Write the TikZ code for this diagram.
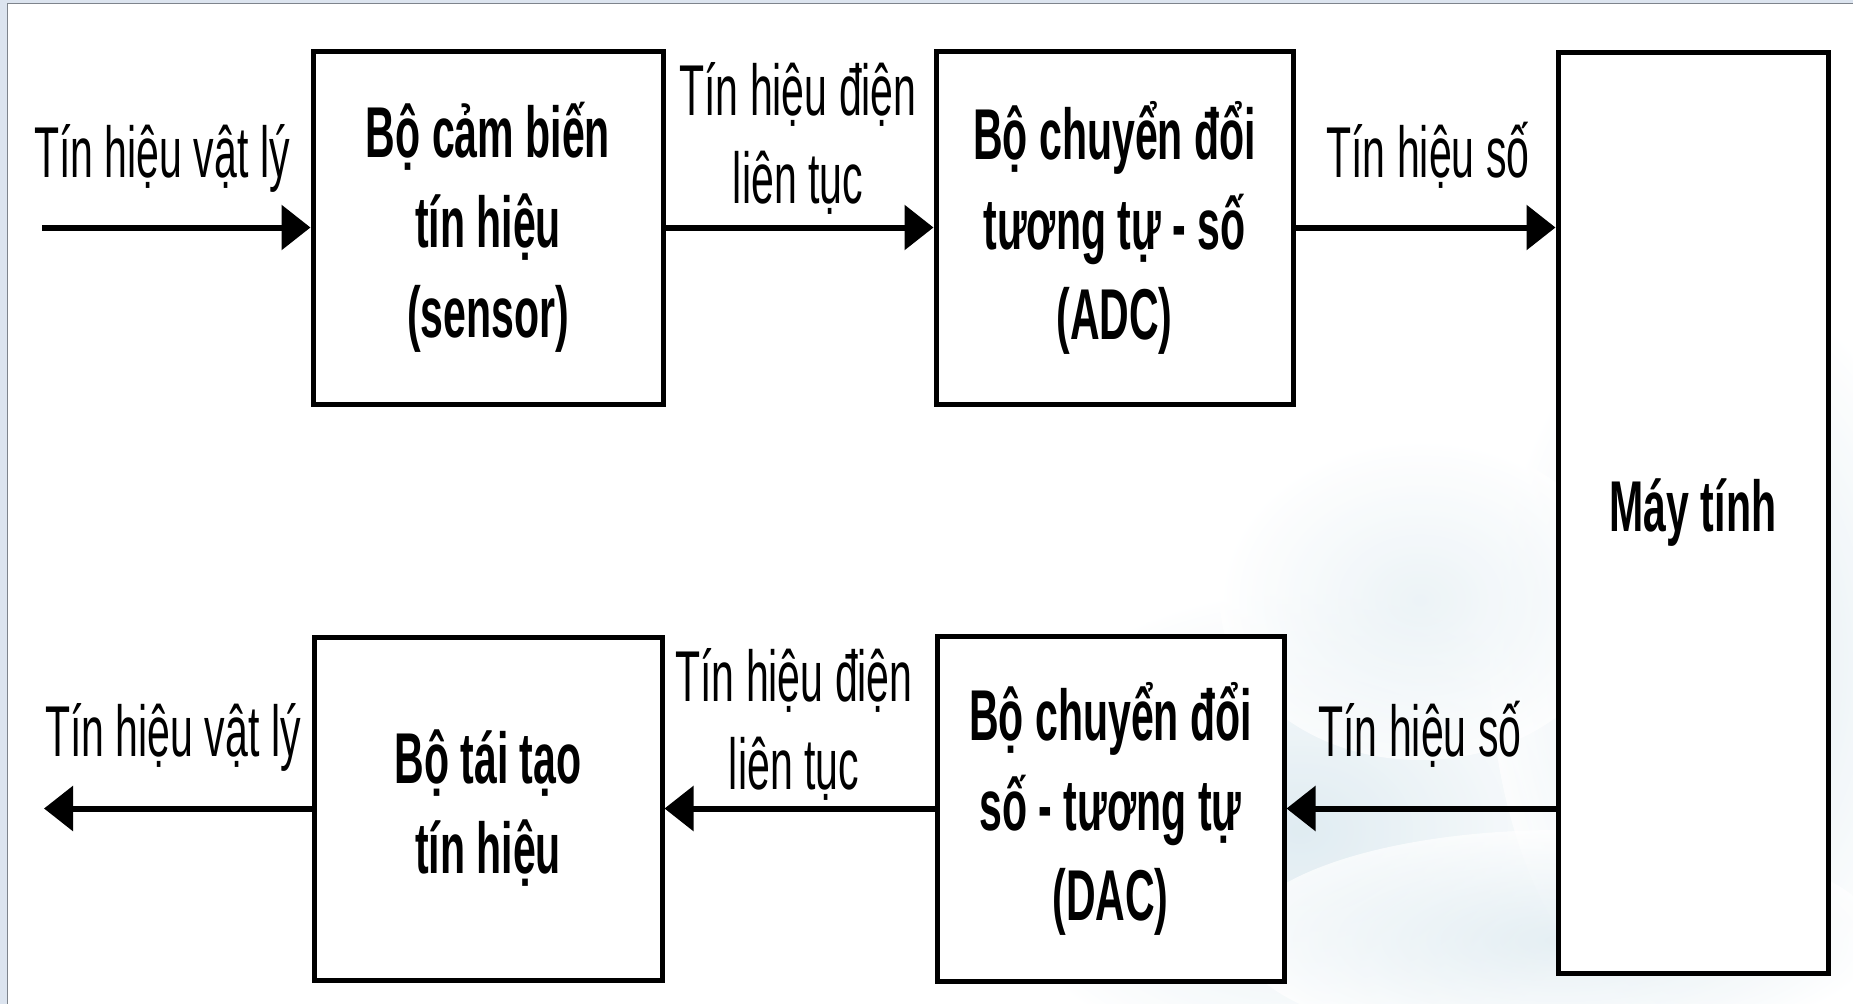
\documentclass[tikz,border=0pt]{standalone}
\usepackage{fontspec}
\setmainfont[FakeStretch=0.57]{Liberation Sans}
\usetikzlibrary{arrows.meta}
\definecolor{wm}{HTML}{D3E4EC}
\definecolor{frameband}{HTML}{DCE4EF}
\definecolor{frameline}{HTML}{7E848C}
\begin{document}
\begin{tikzpicture}[x=1pt,y=-1pt,
  blk/.style={draw=black, line width=5pt, fill=white, inner sep=0pt, align=center,
    font=\fontsize{72pt}{90pt}\selectfont\bfseries},
  lbl/.style={inner sep=0pt, align=center, font=\fontsize{72pt}{88pt}\selectfont},
  conn/.style={line width=6pt, -{Triangle[length=29pt,width=44pt]}}
]
% background and frame
\fill[white] (0,0) rectangle (1853,1004);
\useasboundingbox (0,0) rectangle (1853,1004);
\fill[frameband] (0,0) rectangle (7,1004);
\fill[frameband] (0,0) rectangle (1853,3);
\draw[frameline, line width=1.5pt] (7.5,1004) -- (7.5,3.7) -- (1853,3.7);
% faint watermark
\begin{scope}[opacity=0.7]
\shade[inner color=wm, outer color=white] (1300,830) ellipse (320 and 240);
\shade[inner color=wm, outer color=white] (1720,660) ellipse (230 and 380);
\shade[inner color=wm!60, outer color=white] (1420,600) ellipse (200 and 160);
\shade[inner color=wm!80, outer color=white] (1560,940) ellipse (320 and 110);
\end{scope}
% blocks
\node[blk, minimum width=350pt, minimum height=353pt] (sens) at (488,227.5)
  {Bộ cảm biến\\tín hiệu\\(sensor)};
\node[blk, minimum width=357pt, minimum height=353pt] (adc) at (1114.5,227.5)
  {Bộ chuyển đổi\\tương tự - số\\(ADC)};
\node[blk, minimum width=270pt, minimum height=921pt] (pc) at (1693,512.5)
  {Máy tính};
\node[blk, minimum width=348pt, minimum height=343pt] (rec) at (488,808.5)
  {Bộ tái tạo\\tín hiệu};
\node[blk, minimum width=347pt, minimum height=345pt] (dac) at (1110.5,808.5)
  {Bộ chuyển đổi\\số - tương tự\\(DAC)};
% free ends
\coordinate (inp) at (42,227.5);
\coordinate (outp) at (44,808.5);
% connectors
\draw[conn] (inp) -- (sens.west);
\draw[conn] (sens.east) -- (adc.west);
\draw[conn] (adc.east) -- (adc.east -| pc.west);
\draw[conn] (pc.west |- dac.east) -- (dac.east);
\draw[conn] (dac.west) -- (rec.east);
\draw[conn] (rec.west) -- (outp);
% labels (base = baseline of the last line)
\node[lbl, anchor=base] (l1) at (162,177) {Tín hiệu vật lý};
\node[lbl, anchor=base] (l2) at (798,203) {Tín hiệu điện\\liên tục};
\node[lbl, anchor=base] (l3) at (1428,177) {Tín hiệu số};
\node[lbl, anchor=base] (l4) at (173,756) {Tín hiệu vật lý};
\node[lbl, anchor=base] (l5) at (794,789) {Tín hiệu điện\\liên tục};
\node[lbl, anchor=base] (l6) at (1420,756) {Tín hiệu số};
\end{tikzpicture}
\end{document}
